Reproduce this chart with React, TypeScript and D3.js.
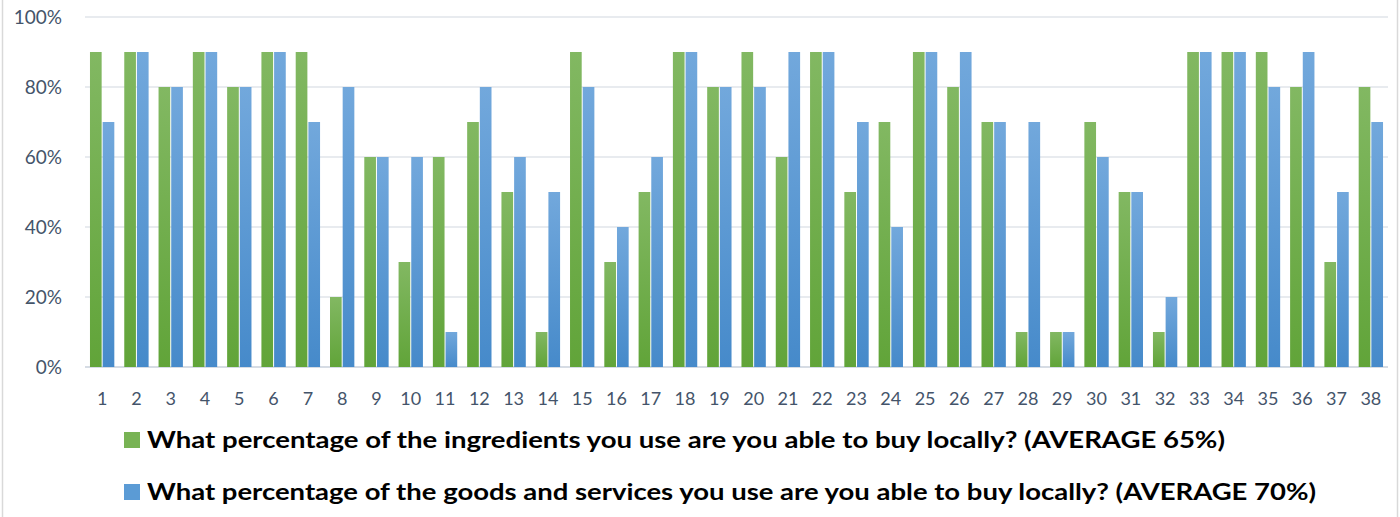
import React from "react";
import * as d3 from "d3";

const categories: string[] = Array.from({ length: 38 }, (_, i) => String(i + 1));
const ingredients: number[] = [90, 90, 80, 90, 80, 90, 90, 20, 60, 30, 60, 70, 50, 10, 90, 30, 50, 90, 80, 90, 60, 90, 50, 70, 90, 80, 70, 10, 10, 70, 50, 10, 90, 90, 90, 80, 30, 80];
const goods: number[] = [70, 90, 80, 90, 80, 90, 70, 80, 60, 60, 10, 80, 60, 50, 80, 40, 60, 90, 80, 80, 90, 90, 70, 40, 90, 90, 70, 70, 10, 60, 50, 20, 90, 90, 80, 90, 50, 70];
const yTicks: number[] = [0, 20, 40, 60, 80, 100];
const seriesNames: string[] = [
  "What percentage of the ingredients you use are you able to buy locally? (AVERAGE 65%)",
  "What percentage of the goods and services you use are you able to buy locally? (AVERAGE 70%)",
];

const W = 1400;
const H = 517;
const plotLeft = 85;
const plotRight = 1388;
const plotTop = 17;
const plotBottom = 367;

export default function App() {
  const x = d3.scaleBand<string>().domain(categories).range([plotLeft, plotRight]).paddingInner(0.29).paddingOuter(0.145);
  const y = d3.scaleLinear().domain([0, 100]).range([plotBottom, plotTop]);
  const bw = x.bandwidth();
  const gap = 1;
  const sub = (bw - gap) / 2;
  const series = [
    { values: ingredients, grad: "gGreen", color: "#78b354" },
    { values: goods, grad: "gBlue", color: "#5b9bd5" },
  ];
  const textColor = "#44546a";
  return (
    <svg width={W} height={H} style={{ position: "absolute", left: 0, top: 0, background: "#fff" }} fontFamily="Lato, 'Open Sans', sans-serif">
      <defs>
        <linearGradient id="gGreen" x1="0" y1="0" x2="0" y2="1">
          <stop offset="0" stopColor="#82b862" />
          <stop offset="1" stopColor="#61a439" />
        </linearGradient>
        <linearGradient id="gBlue" x1="0" y1="0" x2="0" y2="1">
          <stop offset="0" stopColor="#72a8dc" />
          <stop offset="1" stopColor="#468aca" />
        </linearGradient>
      </defs>
      <rect x={0} y={0} width={W} height={H} fill="#fff" />
      <line x1={2.5} x2={2.5} y1={0} y2={H} stroke="#d9d9d9" strokeWidth={1.5} />
      <line x1={1397.5} x2={1397.5} y1={0} y2={H} stroke="#d9d9d9" strokeWidth={1.5} />
      {yTicks.map((t) => (
        <g key={t}>
          <line x1={plotLeft} x2={plotRight} y1={y(t)} y2={y(t)} stroke={t === 0 ? "#d6dce4" : "#e1e5ea"} strokeWidth={t === 0 ? 2 : 1.5} />
          <text x={62} y={y(t)} dy="0.35em" textAnchor="end" fontSize={19} fill={textColor}>{t}%</text>
        </g>
      ))}
      {series.map((s, si) => (
        <g key={si}>
          {categories.map((c, i) => {
            const x0 = (x(c) as number) + si * (sub + gap);
            return (
              <rect key={c} x={x0} y={y(s.values[i])} width={sub} height={plotBottom - y(s.values[i])} fill={`url(#${s.grad})`} />
            );
          })}
        </g>
      ))}
      {categories.map((c) => (
        <text key={c} x={(x(c) as number) + bw / 2} y={399} dy="0.35em" textAnchor="middle" fontSize={18} fill={textColor}>{c}</text>
      ))}
      {seriesNames.map((n, i) => (
        <g key={i}>
          <rect x={124} y={432 + i * 52} width={16} height={16} fill={series[i].color} />
          <text x={147} y={440 + i * 52} dy="0.36em" fontSize={22} fontWeight="bold" fill="#000" textLength={i === 0 ? 1078 : 1169} lengthAdjust="spacingAndGlyphs">{n}</text>
        </g>
      ))}
    </svg>
  );
}
